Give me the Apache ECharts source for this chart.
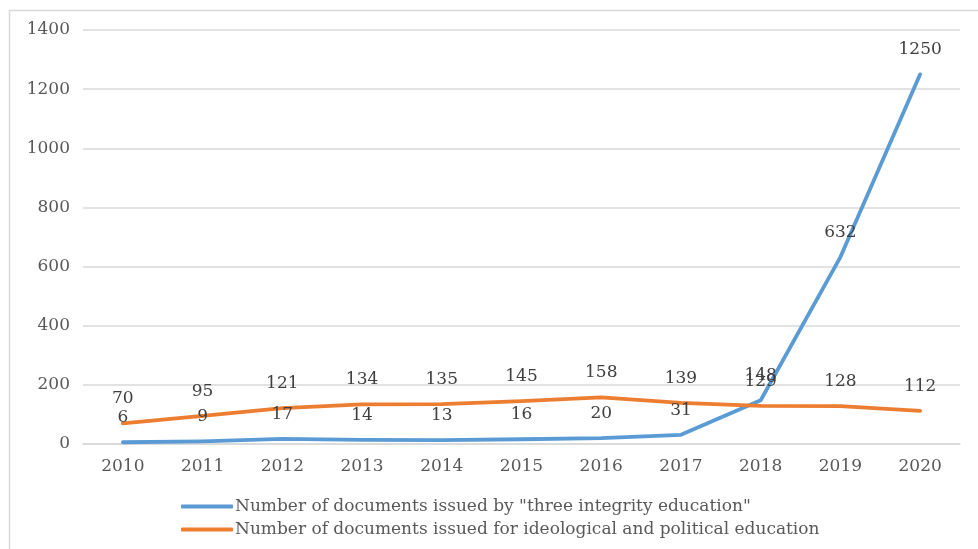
<!DOCTYPE html>
<html>
<head>
<meta charset="utf-8">
<script src="https://cdn.jsdelivr.net/npm/echarts@6/dist/echarts.min.js"></script>
<style>
  html, body { margin: 0; padding: 0; background: #fff; }
  #chart { width: 978px; height: 549px; }
</style>
</head>
<body>
<div id="chart"></div>
<script>
// Yearly counts of issued documents, 2010–2020
const years = ['2010', '2011', '2012', '2013', '2014', '2015', '2016', '2017', '2018', '2019', '2020'];
const threeIntegrity = [6, 9, 17, 14, 13, 16, 20, 31, 148, 632, 1250];
const ideoPolitical = [70, 95, 121, 134, 135, 145, 158, 139, 129, 128, 112];
const seriesNames = [
  'Number of documents issued by "three integrity education"',
  'Number of documents issued for ideological and political education'
];

const FONT = '"DejaVu Serif", "Liberation Serif", serif';
const FS = 17;
const TEXT = '#595959';

const chart = echarts.init(document.getElementById('chart'), null, { renderer: 'canvas' });

function lineSeries(name, data, color) {
  return {
    name: name,
    type: 'line',
    data: data,
    symbol: 'circle',
    symbolSize: 2,
    itemStyle: { color: color },
    lineStyle: { color: color, width: 3.8, cap: 'round', join: 'round' },
    label: {
      show: true,
      position: 'top',
      distance: 15,
      color: '#404040',
      fontFamily: FONT,
      fontSize: FS
    },
    emphasis: { disabled: true },
    animation: false
  };
}

chart.setOption({
  animation: false,
  grid: { left: 83, right: 18, top: 30, bottom: 105, containLabel: false },
  xAxis: {
    type: 'category',
    data: years,
    boundaryGap: true,
    axisLine: { show: true, lineStyle: { color: '#d9d9d9', width: 1.5 } },
    axisTick: { show: false },
    axisLabel: { color: TEXT, fontFamily: FONT, fontSize: FS, margin: 14 }
  },
  yAxis: {
    type: 'value',
    min: 0,
    max: 1400,
    interval: 200,
    axisLine: { show: false },
    axisTick: { show: false },
    splitLine: { lineStyle: { color: '#d9d9d9', width: 1.5 } },
    axisLabel: {
      color: TEXT, fontFamily: FONT, fontSize: FS, margin: 13,
      formatter: function (v) { return String(v); }
    }
  },
  legend: {
    orient: 'vertical',
    left: 176,
    top: 493,
    itemWidth: 52,
    itemHeight: 4,
    itemGap: 6,
    icon: 'roundRect',
    textStyle: { color: TEXT, fontFamily: FONT, fontSize: FS, padding: [0, 0, 0, -3] },
    data: seriesNames
  },
  graphic: [
    { type: 'line', shape: { x1: 9, y1: 10.5, x2: 978, y2: 10.5 }, style: { stroke: '#d9d9d9', lineWidth: 1.5 } },
    { type: 'line', shape: { x1: 9.5, y1: 10, x2: 9.5, y2: 549 }, style: { stroke: '#d9d9d9', lineWidth: 1.5 } }
  ],
  series: [
    lineSeries(seriesNames[0], threeIntegrity, '#5B9BD5'),
    lineSeries(seriesNames[1], ideoPolitical, '#ED7D31')
  ]
});
</script>
</body>
</html>
